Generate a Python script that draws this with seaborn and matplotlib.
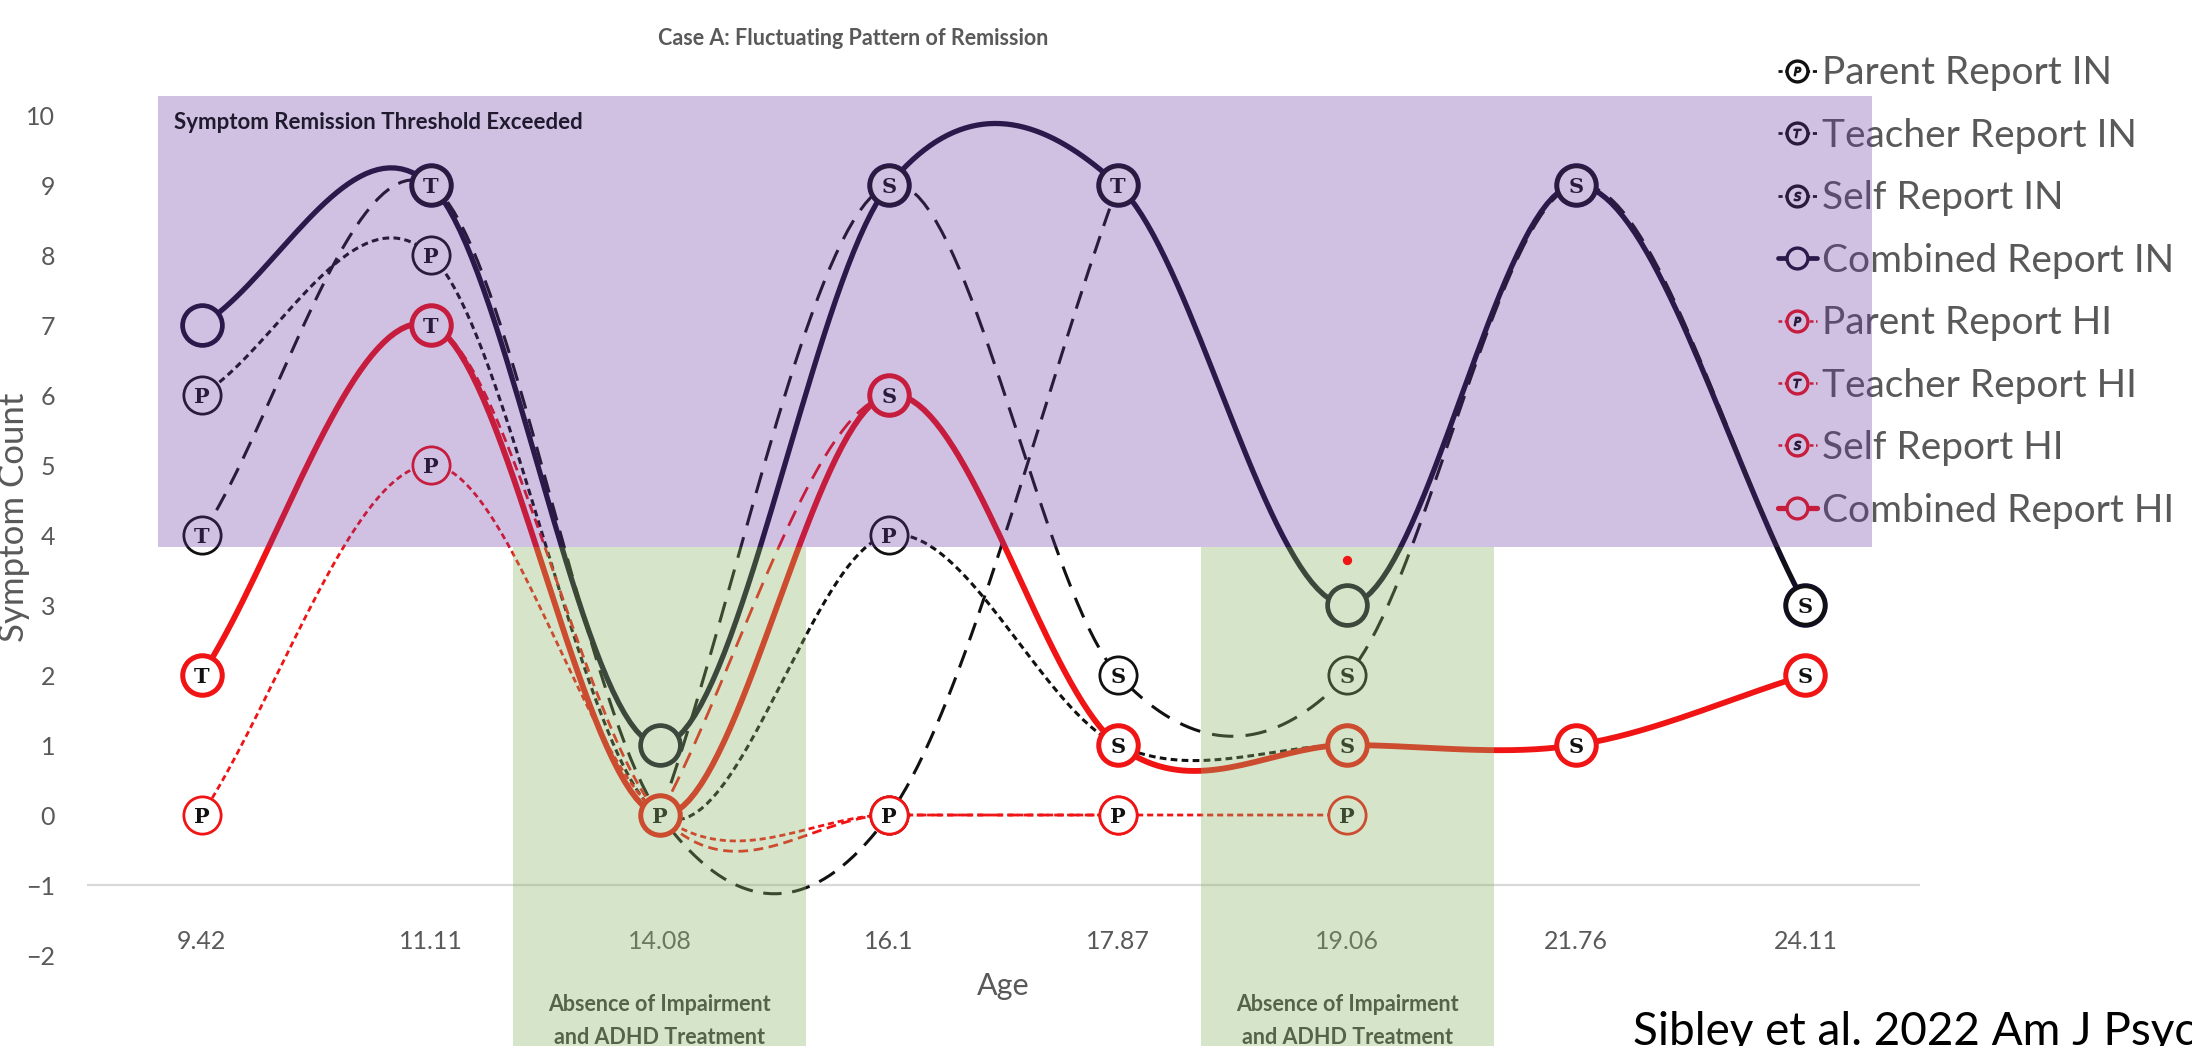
import numpy as np
import pandas as pd
import matplotlib.pyplot as plt
import matplotlib.transforms as mtransforms
import seaborn as sns
from matplotlib.patches import Rectangle
from matplotlib.lines import Line2D

sns.set_theme(style="white")
plt.rcParams["font.family"] = ["Lato", "DejaVu Sans"]

# values (categorical age axis, Excel smoothed lines)
ages = ["9.42", "11.11", "14.08", "16.1", "17.87", "19.06", "21.76", "24.11"]
parentIN = [6, 8, 0, 4, 1, 1, np.nan, np.nan]
teacherIN = [4, 9, 0, 0, 9, np.nan, np.nan, np.nan]
selfIN = [np.nan, np.nan, 0, 9, 2, 2, 9, 3]
combinedIN = [7, 9, 1, 9, 9, 3, 9, 3]
parentHI = [0, 5, 0, 0, 0, 0, np.nan, np.nan]
teacherHI = [2, 7, 0, 0, 0, np.nan, np.nan, np.nan]
selfHI = [np.nan, np.nan, 0, 6, 1, 1, 1, 2]
combinedHI = [2, 7, 0, 6, 1, 1, 1, 2]

# small red dot that sits above the 19.06 markers
dotAge = ["19.06"]
dotValue = [3.65]

threshold = 3.83          # bottom of the "threshold exceeded" band
noTreatment = ["14.08", "19.06"]

navy = "#130e26"
red = "#f01414"
gray = "#595959"


def excel_smooth(vals, steps=40):
    # Catmull-Rom curve through the points, like Excel's smoothed line
    y = np.asarray(vals, dtype=float)
    ok = np.where(~np.isnan(y))[0]
    runs = np.split(ok, np.where(np.diff(ok) > 1)[0] + 1)
    t = np.linspace(0, 1, steps)
    h00 = 2*t**3 - 3*t**2 + 1
    h10 = t**3 - 2*t**2 + t
    h01 = -2*t**3 + 3*t**2
    h11 = t**3 - t**2
    out = []
    for run in runs:
        if len(run) < 2:
            continue
        p = y[run]
        m = np.gradient(p)
        xs, ys = [], []
        for k in range(len(p) - 1):
            seg = h00*p[k] + h10*m[k] + h01*p[k+1] + h11*m[k+1]
            n = steps if k == len(p) - 2 else steps - 1
            xs.extend(run[k] + t[:n])
            ys.extend(seg[:n])
        out.append((np.array(xs), np.array(ys)))
    return out


series = [
    # name, values, color, lw, dashes, letter
    ("Combined Report IN", combinedIN, navy, 3.8, None, ""),
    ("Parent Report IN", parentIN, "#111111", 2.2, (2.2, 1.4), "P"),
    ("Teacher Report IN", teacherIN, "#111111", 2.2, (6, 3.5), "T"),
    ("Self Report IN", selfIN, "#111111", 2.2, (7, 4), "S"),
    ("Combined Report HI", combinedHI, red, 4.2, None, ""),
    ("Teacher Report HI", teacherHI, red, 2.0, (3.5, 2), "T"),
    ("Self Report HI", selfHI, red, 2.0, (6, 3.5), "S"),
    ("Parent Report HI", parentHI, red, 2.0, (2.2, 1.4), "P"),
]

fig = plt.figure(figsize=(21.92, 10.46), dpi=100)
ax = fig.add_axes([87/2192, 0.0669, 1833/2192, 0.8432])
pos = np.arange(len(ages))

for name, vals, c, lw, dash, letter in series:
    ls = "-" if dash is None else (0, dash)
    for xs, ys in excel_smooth(vals):
        sns.lineplot(x=xs, y=ys, ax=ax, color=c, lw=lw, linestyle=ls,
                     estimator=None, sort=False, zorder=2)

# markers: later series sit on top of earlier ones at shared points
for k, (name, vals, c, lw, dash, letter) in enumerate(series):
    big = dash is None
    z = 3 + k * 0.05
    sns.scatterplot(x=pos, y=vals, ax=ax, s=820 if big else 720, color="white",
                    edgecolor=c, linewidth=3.4 if big else 2.0, zorder=z)
    for i, v in enumerate(vals):
        if letter and not np.isnan(v):
            ax.text(i, v, letter, ha="center", va="center_baseline",
                    fontsize=15, fontweight="bold", color="#111111",
                    family="DejaVu Serif", zorder=z + 0.02)

sns.scatterplot(x=[ages.index(a) for a in dotAge], y=dotValue, ax=ax, s=45,
                color=red, linewidth=0, zorder=4.5)

# shaded regions: purple = remission threshold exceeded, green = no impairment/treatment
ax.add_patch(Rectangle((-0.19, threshold), 7.48, 10.27 - threshold,
                       facecolor="#6633a1", alpha=0.3, lw=0, zorder=6))
trans = mtransforms.blended_transform_factory(ax.transData, fig.transFigure)
for a in noTreatment:
    i = ages.index(a)
    ax.add_patch(Rectangle((i - 0.64, -3.4), 1.28, threshold + 3.4,
                           facecolor="#8ab566", alpha=0.35, lw=0, zorder=4,
                           clip_on=False))
    ax.text(i, 0.05, "Absence of Impairment\nand ADHD Treatment", transform=trans,
            ha="center", va="top", fontsize=15.5, fontweight="bold",
            color="#3a3a3a", linespacing=1.75)

ax.text(-0.12, 9.89, "Symptom Remission Threshold Exceeded", ha="left",
        va="center", fontsize=16, fontweight="bold", color="#1f1a2e", zorder=7)

ax.axhline(-1, color="#d9d9d9", lw=1.6, zorder=1)
ax.set_xlim(-0.5, 7.5)
ax.set_ylim(-2.3, 10.3)
ax.set_xticks(pos)
ax.set_xticklabels(ages)
ax.set_yticks(range(-2, 11))
ax.tick_params(axis="x", length=0, pad=-33, labelsize=18, labelcolor=gray)
ax.tick_params(axis="y", length=0, pad=23, labelsize=18, labelcolor=gray)
for s in ax.spines.values():
    s.set_visible(False)
ax.set_xlabel("Age", fontsize=22, color=gray)
ax.xaxis.set_label_coords(0.5, 0.004)
ax.set_ylabel("Symptom Count", fontsize=25, color=gray)
ax.yaxis.set_label_coords(-0.031, 0.52)

fig.text(0.389, 0.963, "Case A: Fluctuating Pattern of Remission", ha="center",
         va="center", fontsize=15.5, fontweight="bold", color=gray)

# legend in the original order
order = ["Parent Report IN", "Teacher Report IN", "Self Report IN", "Combined Report IN",
         "Parent Report HI", "Teacher Report HI", "Self Report HI", "Combined Report HI"]
spec = {s[0]: s for s in series}
handles = []
for name in order:
    _, _, c, lw, dash, letter = spec[name]
    ls = "-" if dash is None else (0, (1.5, 1))
    h1 = Line2D([], [], color=c, lw=lw*0.9, linestyle=ls, marker="o", ms=15,
                mfc="white", mec=c, mew=2.4)
    if letter:
        h2 = Line2D([], [], ls="none", marker="$" + letter + "$", ms=6, color="#111111")
        handles.append((h1, h2))
    else:
        handles.append(h1)
leg = ax.legend(handles, order, loc="upper left", bbox_to_anchor=(0.811, 0.947),
                bbox_transform=fig.transFigure, frameon=False, fontsize=28,
                labelcolor=gray, handlelength=1.0, handletextpad=0.15,
                labelspacing=0.68, borderpad=0, borderaxespad=0)
leg.set_zorder(5)

fig.text(0.745, 0.001, "Sibley et al. 2022 Am J Psychiatry", fontsize=33,
         color="black", va="baseline", ha="left")

fig.savefig("out.png", dpi=100)
